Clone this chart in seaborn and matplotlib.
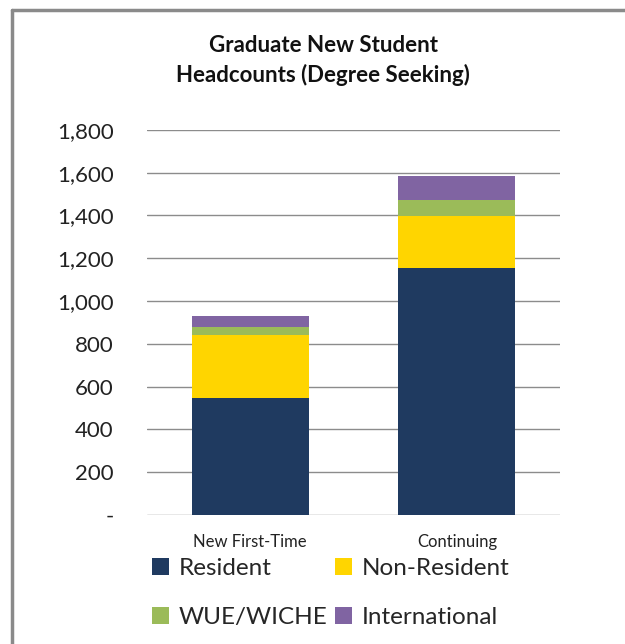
import matplotlib
matplotlib.use("Agg")
import matplotlib.pyplot as plt
from matplotlib.patches import Patch
import numpy as np
import seaborn as sns

categories = ["New First-Time", "Continuing"]
series_names = ["Resident", "Non-Resident", "WUE/WICHE", "International"]
resident = [548, 1155]
non_resident = [295, 242]
wue_wiche = [34, 76]
international = [54, 113]
colors = ["#1F3A60", "#FFD500", "#9BBB59", "#8064A2"]
yticks = [0, 200, 400, 600, 800, 1000, 1200, 1400, 1600, 1800]
ytick_labels = ["-", "200", "400", "600", "800", "1,000", "1,200", "1,400", "1,600", "1,800"]

sns.set_style("white")
plt.rcParams["font.family"] = ["Lato", "DejaVu Sans"]

fig = plt.figure(figsize=(6.25, 6.44), dpi=100)
ax = fig.add_axes([0.2352, 0.2003, 0.661, 0.598])

series = [resident, non_resident, wue_wiche, international]
cum = np.cumsum(np.array(series), axis=0)
# draw from top total down so lower segments overlay
for i in range(len(series) - 1, -1, -1):
    sns.barplot(x=categories, y=list(cum[i]), color=colors[i], width=0.565,
                saturation=1, ax=ax, edgecolor="none", linewidth=0, zorder=3)

ax.set_ylim(0, 1800)
ax.set_xlim(-0.5, 1.5)
ax.set_yticks(yticks)
ax.set_yticklabels(ytick_labels, fontsize=16, color="#222222")
ax.tick_params(axis="y", length=0, pad=24)
ax.tick_params(axis="x", length=0, pad=14, labelsize=12, labelcolor="#222222")
ax.yaxis.grid(True, color="#8c8c8c", linewidth=1.0, zorder=0)
ax.xaxis.grid(False)
for s in ax.spines.values():
    s.set_visible(False)
ax.set_xlabel("")
ax.set_ylabel("")

fig.text(0.517, 0.930, "Graduate New Student", ha="center", va="center",
         fontsize=16, fontweight="bold", color="#111111")
fig.text(0.517, 0.883, "Headcounts (Degree Seeking)", ha="center", va="center",
         fontsize=16, fontweight="bold", color="#111111")

# chart area border (top and left visible)
fig.add_artist(plt.Line2D([0.019, 0.019], [0, 0.985], transform=fig.transFigure,
                          color="#8a8a8a", linewidth=2.5))
fig.add_artist(plt.Line2D([0.019, 1.0], [0.985, 0.985], transform=fig.transFigure,
                          color="#8a8a8a", linewidth=2.5))

order = [0, 2, 1, 3]
handles = [Patch(facecolor=colors[i], edgecolor="none") for i in order]
labels = [series_names[i] for i in order]
fig.legend(handles, labels, loc="upper left", bbox_to_anchor=(0.243, 0.133),
           ncol=2, frameon=False, fontsize=17.5, handlelength=0.7, handleheight=0.7,
           handletextpad=0.4, columnspacing=0.3, labelspacing=1.15,
           borderaxespad=0, borderpad=0)

fig.savefig("out.png", dpi=100, facecolor="white")
